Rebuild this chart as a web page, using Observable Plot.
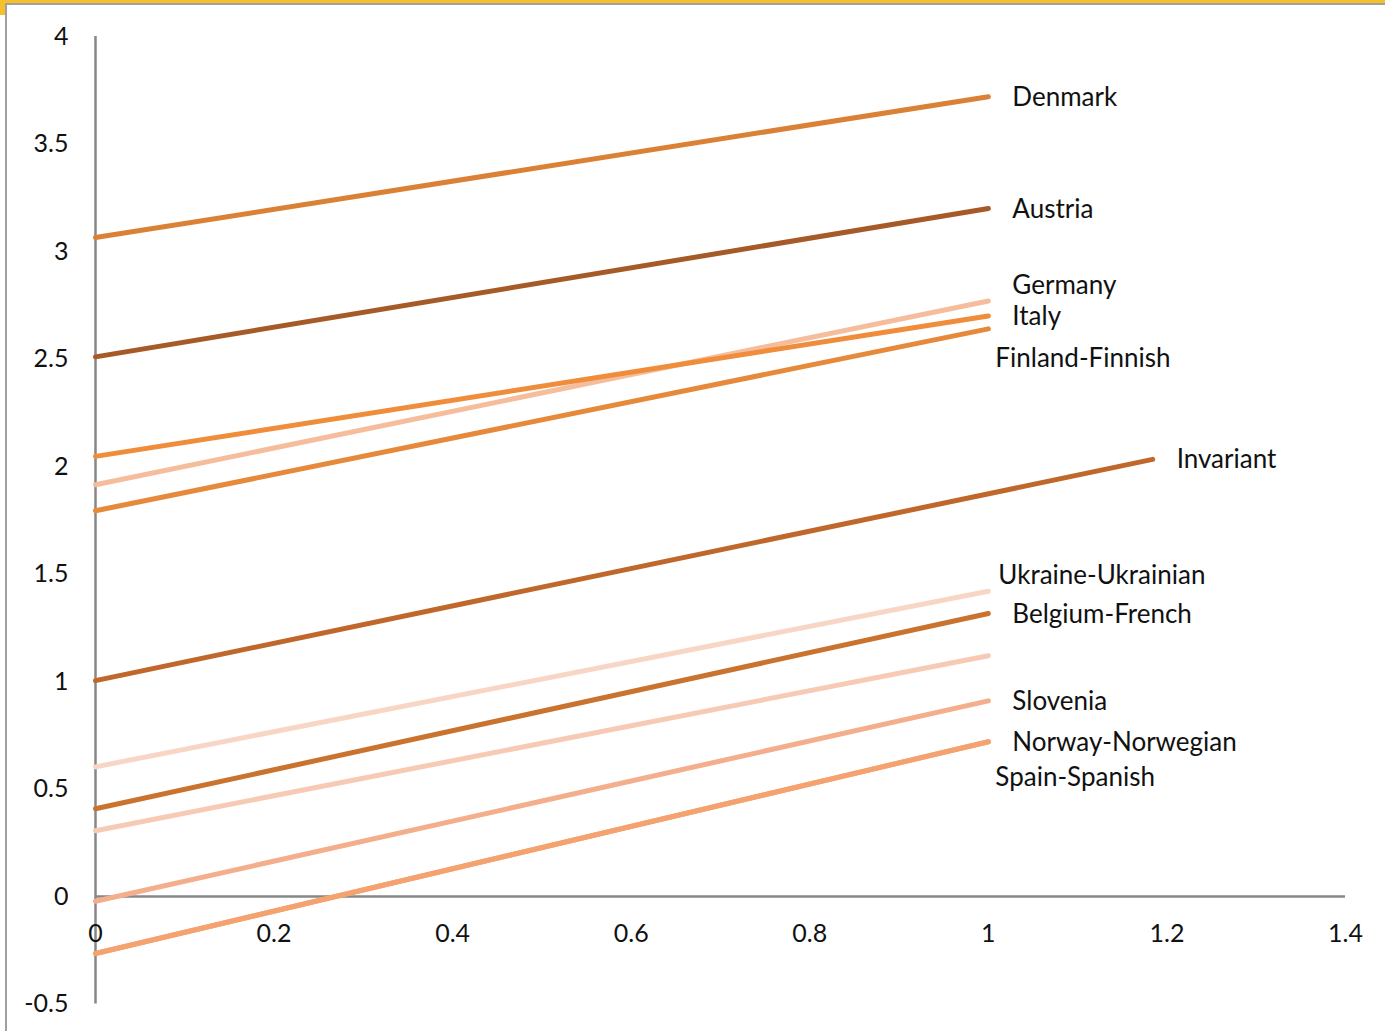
<!DOCTYPE html>
<html>
<head>
<meta charset="utf-8">
<script src="https://cdn.jsdelivr.net/npm/d3@7"></script>
<script src="https://cdn.jsdelivr.net/npm/@observablehq/plot@0.6"></script>
<style>
  html, body { margin: 0; padding: 0; background: #fff; }
  #wrap { position: relative; width: 1385px; height: 1031px; overflow: hidden; }
  #wrap svg { position: absolute; left: 0; top: 0; }
  .gold-top { position: absolute; left: 0; top: 0; width: 1385px; height: 3px; background: #f5c02a; }
  .gold-corner { position: absolute; left: 0; top: 0; width: 5px; height: 15px; background: #f5c02a; }
  .frame { position: absolute; left: 5px; top: 3px; width: 2000px; height: 2000px;
           border-left: 2px solid #a0a0a0; border-top: 2px solid #a0a0a0; pointer-events: none; }
</style>
</head>
<body>
<div id="wrap">
  <div class="gold-top"></div>
  <div class="gold-corner"></div>
  <div class="frame"></div>
</div>
<script>
// ---- data ----
const series   = ["Denmark","Austria","Germany","Italy","Finland-Finnish","Invariant","Ukraine-Ukrainian","Belgium-French","","Slovenia","Norway-Norwegian","Spain-Spanish"];
const xStart   = [0,0,0,0,0,0,0,0,0,0,0,0];
const xEnd     = [1,1,1,1,1,1.184,1,1,1,1,1,1];
const yStart   = [3.065,2.510,1.915,2.047,1.794,1.004,0.603,0.408,0.306,-0.022,-0.265,-0.265];
const yEnd     = [3.720,3.200,2.770,2.700,2.640,2.033,1.420,1.316,1.120,0.910,0.720,0.720];
const colors   = ["#db8136","#a65a27","#f6bd9c","#ef8d3b","#e6893a","#c0682b","#f8d6c5","#c9732f","#f7cab5","#f4ae8b","#f4a26f","#f4a26f"];
// label offsets (px) relative to each line's end
const labelDx  = [24,24,24,24,7,24,10,24,24,24,24,7];
const labelDy  = [1,1,-15,1,30,0,-16,1,0,1,1,36];

const xTicks = [0,0.2,0.4,0.6,0.8,1,1.2,1.4];
const xTickLabels = ["0","0.2","0.4","0.6","0.8","1","1.2","1.4"];
const yTicks = [-0.5,0,0.5,1,1.5,2,2.5,3,3.5,4];
const yTickLabels = ["-0.5","0","0.5","1","1.5","2","2.5","3","3.5","4"];

// ---- build tables ----
const points = [];
series.forEach((s, i) => {
  points.push({id: i, x: xStart[i], y: yStart[i]});
  points.push({id: i, x: xEnd[i], y: yEnd[i]});
});
const ends = series.map((s, i) => ({name: s, x: xEnd[i], y: yEnd[i], dx: labelDx[i], dy: labelDy[i]}));
const xt = xTicks.map((v, i) => ({v, t: xTickLabels[i]}));
const yt = yTicks.map((v, i) => ({v, t: yTickLabels[i]}));

const font = "Lato, 'Open Sans', sans-serif";
const fs = 26;

const marks = [
  Plot.ruleX([0], {y1: -0.5, y2: 4, stroke: "#878787", strokeWidth: 2.5}),
  Plot.ruleY([0], {x1: 0, x2: 1.4, stroke: "#878787", strokeWidth: 2.5}),
];
series.forEach((s, i) => {
  marks.push(Plot.line(points.filter(p => p.id === i), {
    x: "x", y: "y", stroke: colors[i], strokeWidth: 5, strokeLinecap: "round"
  }));
});
ends.forEach(e => {
  marks.push(Plot.text([e], {x: "x", y: "y", text: "name", dx: e.dx, dy: e.dy,
    textAnchor: "start", fill: "#111", fontSize: fs, fontFamily: font}));
});
marks.push(Plot.text(xt, {x: "v", y: () => 0, text: "t", dy: 37, textAnchor: "middle",
  fill: "#111", fontSize: 25, fontFamily: font}));
marks.push(Plot.text(yt, {x: () => 0, y: "v", text: "t", dx: -27, textAnchor: "end",
  fill: "#111", fontSize: 25, fontFamily: font}));

const chart = Plot.plot({
  width: 1385,
  height: 1031,
  marginLeft: 95,
  marginRight: 40,
  marginTop: 36,
  marginBottom: 27.5,
  x: {domain: [0, 1.4], axis: null},
  y: {domain: [-0.5, 4], axis: null},
  style: {background: "transparent", fontFamily: font},
  marks
});
document.getElementById("wrap").insertBefore(chart, document.querySelector(".frame"));
</script>
</body>
</html>
